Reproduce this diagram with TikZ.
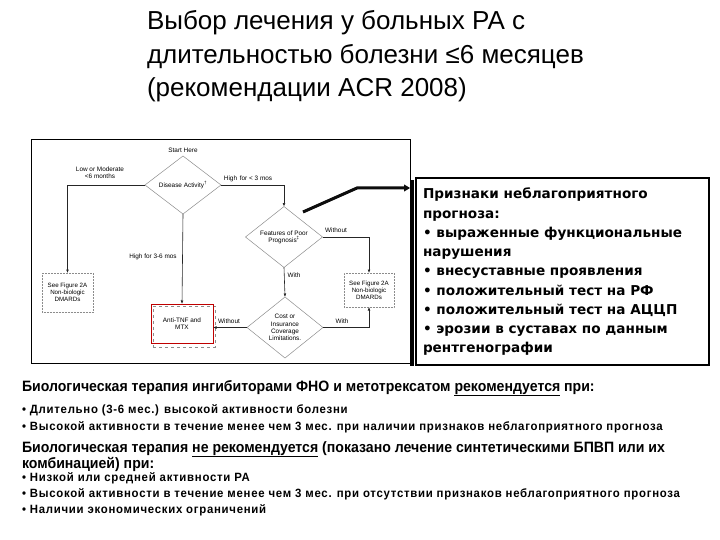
\documentclass[tikz,border=0pt]{standalone}
\usepackage{fontspec}
\setmainfont{Liberation Sans}
\newfontfamily\boxfont{DejaVu Sans}
\newfontfamily\narrowfont{Liberation Sans}[FakeStretch=0.94]
\newfontfamily\narrowerfont{Liberation Sans}[FakeStretch=0.95,LetterSpace=6]
\usetikzlibrary{shapes.geometric,arrows.meta}
\begin{document}
\begin{tikzpicture}[x=1pt,y=-1pt,
  every node/.style={inner sep=0pt,outer sep=0pt},
  tiny/.style={font=\fontsize{6.4}{7.3}\selectfont,align=center},
  dia/.style={diamond,draw=black!45,line width=0.5pt,font=\fontsize{6.4}{7.3}\selectfont,align=center,inner sep=0pt},
  dmbox/.style={draw=black!45,densely dotted,line width=0.5pt,font=\fontsize{6.2}{7.2}\selectfont,align=center},
  conn/.style={draw=black!85,line width=0.6pt,-{Latex[length=3.5pt,width=2.8pt]}},
  ttl/.style={anchor=base west,font=\fontsize{26}{30}\selectfont},
  infol/.style={anchor=base west,font=\boxfont\bfseries\fontsize{13.6}{16}\selectfont},
  headl/.style={anchor=base west,font=\narrowfont\bfseries\fontsize{15}{17}\selectfont},
  bull/.style={anchor=base west,font=\narrowerfont\bfseries\fontsize{12}{14}\selectfont},
]
\useasboundingbox (0,0) rectangle (720,540);

% flowchart frame
\draw[line width=0.9pt] (410,183) -- (410,139) -- (31,139) -- (31,363) -- (410,363);
\fill[black] (409.5,180) rectangle (413.5,365.5);

% title
\node[ttl] (t1) at (147,30) {Выбор лечения у больных РА с};
\node[ttl] (t2) at (147,63.5) {длительностью болезни ≤6 месяцев};
\node[ttl] (t3) at (147,97) {(рекомендации ACR 2008)};

% info box
\node[draw=black,line width=1.8pt,minimum width=293pt,minimum height=187pt] (info) at (562.5,271.5) {};

% flowchart nodes
\node[dia,minimum width=76pt,minimum height=58pt] (dis) at (183,185) {Disease Activity\textsuperscript{†}};
\node[dia,minimum width=77pt,minimum height=60pt] (feat) at (284,237) {Features of Poor\\Prognosis\textsuperscript{‡}};
\node[dia,minimum width=76pt,minimum height=61pt] (cost) at (285,327.5) {Cost or\\Insurance\\Coverage\\Limitations.};
\node[dmbox,minimum width=51pt,minimum height=39pt] (lbox) at (67.5,292.5) {See Figure 2A\\Non-biologic\\DMARDs};
\node[dmbox,minimum width=50pt,minimum height=34pt] (rbox) at (369,290) {See Figure 2A\\Non-biologic\\DMARDs};
\node[draw=black!45,dashed,line width=0.5pt,minimum width=62pt,minimum height=41pt] (antish) at (184,326.5) {};
\node[draw=red!75!black,line width=0.8pt,minimum width=62pt,minimum height=39pt,tiny] (anti) at (182,323.5) {Anti-TNF and\\MTX};

% labels
\node[tiny] (lstart) at (183,150) {Start Here};
\node[tiny] (llow) at (100,172.5) {Low or Moderate\\<6 months};
\node[tiny] (lhigh3) at (248,179) {High\, for < 3 mos};
\node[tiny] (lwo1) at (336,230) {Without};
\node[tiny] (lwith1) at (294,275) {With};
\node[tiny] (lhigh36) at (153,257) {High for 3-6 mos};
\node[tiny] (lwo2) at (229,321) {Without};
\node[tiny] (lwith2) at (342,321) {With};

% connectors
\draw[conn] (dis.west) -| (lbox.north);
\draw[conn] (dis.east) -| (feat.north);
\draw[conn] (dis.south) -- (anti.north);
\draw[conn] (feat.east) -| (rbox.north);
\draw[conn] (feat.south) -- (cost.north);
\draw[conn] (cost.west) -- (cost.west -| anti.east);
\draw[conn] (cost.east) -| (rbox.south);

\node[infol] (i1) at (423,199) {Признаки неблагоприятного};
\node[infol] (i2) at (423,218.2) {прогноза:};
\node[infol] (i3) at (423,237.4) {• выраженные функциональные};
\node[infol] (i4) at (423,256.6) {нарушения};
\node[infol] (i5) at (423,275.8) {• внесуставные проявления};
\node[infol] (i6) at (423,295) {• положительный тест на РФ};
\node[infol] (i7) at (423,314.2) {• положительный тест на АЦЦП};
\node[infol] (i8) at (423,333.4) {• эрозии в суставах по данным};
\node[infol] (i9) at (423,352.6) {рентгенографии};

% bottom text
\node[headl] (h1) at (22,391) {Биологическая терапия ингибиторами ФНО и метотрексатом \underline{рекомендуется} при:};
\node[bull] (b1) at (22,413) {• Длительно (3-6 мес.) высокой активности болезни};
\node[bull] (b2) at (22,430) {• Высокой активности в течение менее чем 3 мес. при наличии признаков неблагоприятного прогноза};
\node[headl] (h2) at (22,452) {Биологическая терапия \underline{не рекомендуется} (показано лечение синтетическими БПВП или их};
\node[headl] (h3) at (22,468) {комбинацией) при:};
\node[bull] (b3) at (22,481) {• Низкой или средней активности РА};
\node[bull] (b4) at (22,497) {• Высокой активности в течение менее чем 3 мес. при отсутствии признаков неблагоприятного прогноза};
\node[bull] (b5) at (22,513) {• Наличии экономических ограничений};

% thick pointer from the "Features" diamond to the info box (drawn last)
\coordinate (thkA) at ([shift={(19,-25)}]feat.center);
\coordinate (thkB) at (357,188);
\coordinate (thkC) at (404,188);
\coordinate (thkD) at (410,188);
\draw[black!95,line width=3pt] (thkA) -- (thkB) -- (thkC);
\fill[black!95] (404,184.4) -- (thkD) -- (404,191.6) -- cycle;
\end{tikzpicture}
\end{document}
